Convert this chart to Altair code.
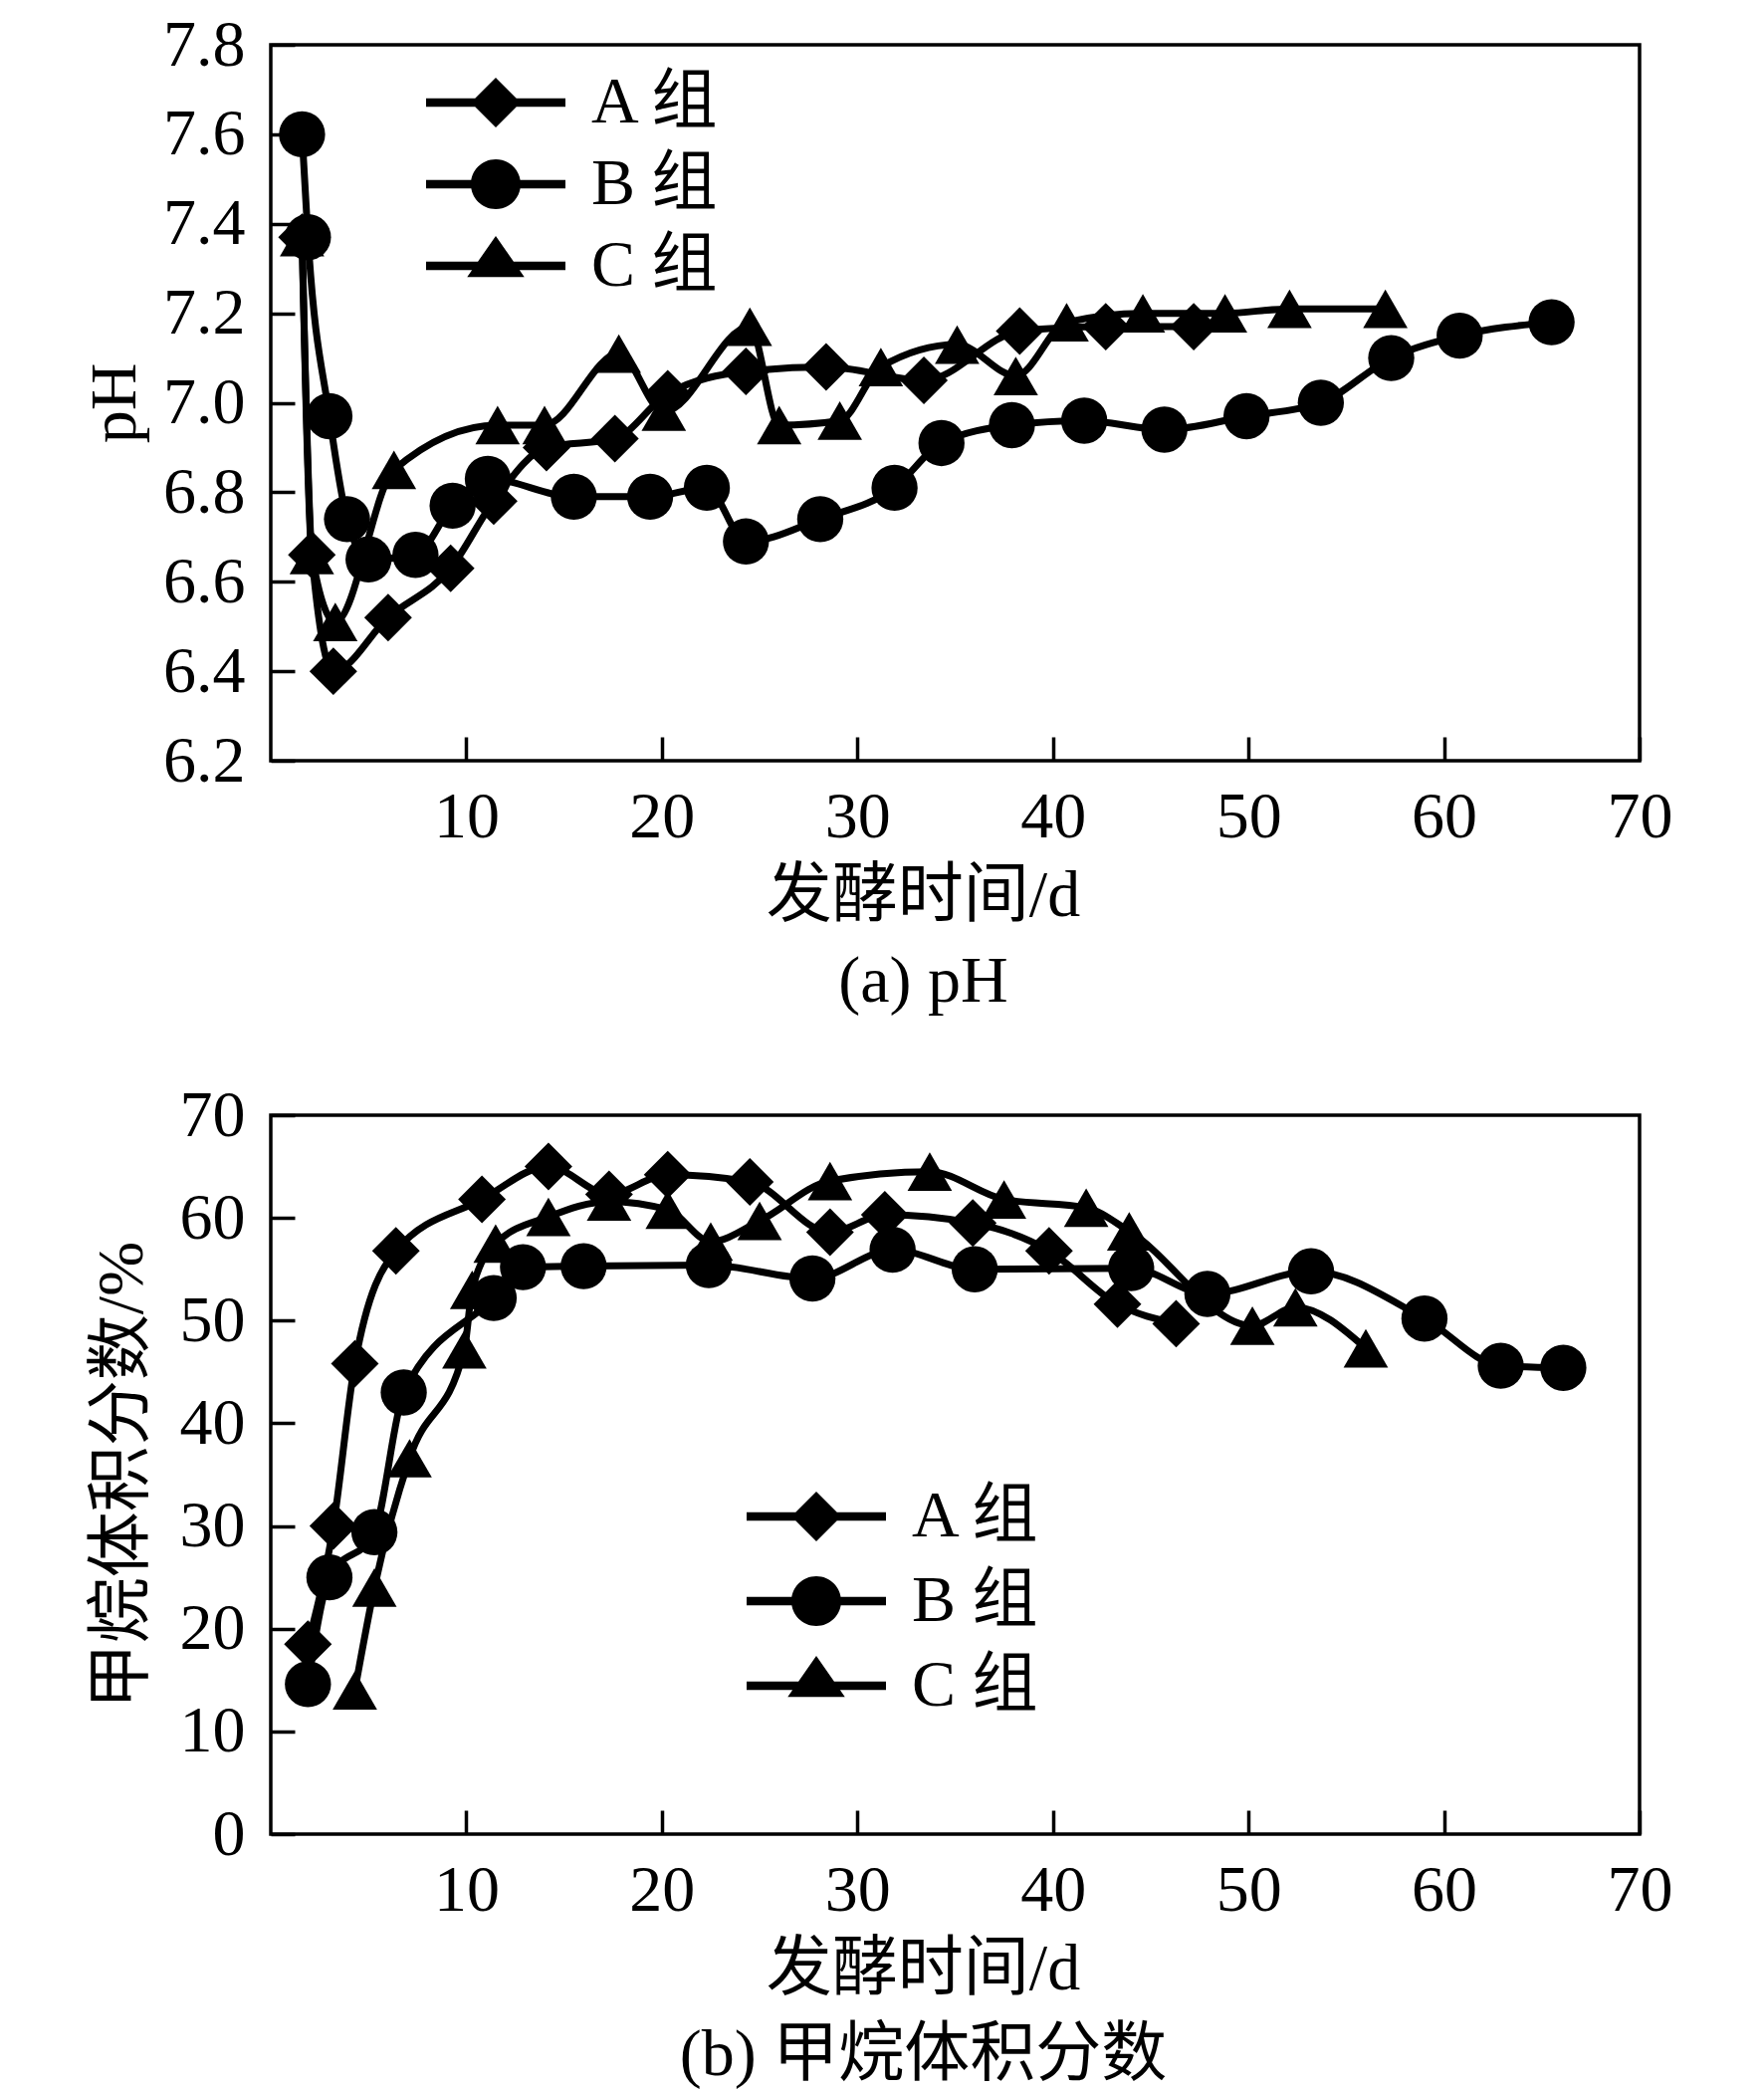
import altair as alt
import pandas as pd

GROUPS = ["A 组", "B 组", "C 组"]

# ---- (a) pH ----
A_ph_day = [1.6, 2.1, 3.2, 6.0, 9.2, 11.4, 14.1, 17.6, 20.3, 24.3, 28.4, 33.4, 38.3, 42.7, 47.2]
A_ph = [7.37, 6.66, 6.40, 6.52, 6.63, 6.78, 6.90, 6.92, 7.02, 7.07, 7.08, 7.05, 7.16, 7.17, 7.17]

B_ph_day = [1.6, 1.9, 3.0, 3.9, 5.0, 7.4, 9.3, 11.1, 15.5, 19.4, 22.3, 24.3, 28.1, 31.9, 34.3,
            37.9, 41.6, 45.7, 49.9, 53.7, 57.3, 60.8, 65.5]
B_ph = [7.60, 7.37, 6.97, 6.74, 6.65, 6.66, 6.77, 6.83, 6.79, 6.79, 6.81, 6.69, 6.74, 6.81, 6.91,
        6.95, 6.96, 6.94, 6.97, 7.00, 7.10, 7.15, 7.18]

C_ph_day = [1.6, 2.1, 3.3, 6.3, 11.6, 14.0, 17.8, 20.1, 24.5, 26.0, 29.1, 31.2, 35.1, 38.1, 40.7,
            44.6, 48.8, 52.1, 57.0]
C_ph = [7.37, 6.66, 6.51, 6.85, 6.95, 6.95, 7.11, 6.98, 7.17, 6.95, 6.96, 7.08, 7.13, 7.06, 7.18,
        7.20, 7.20, 7.21, 7.21]

# ---- (b) methane volume fraction ----
A_m_day = [1.9, 3.2, 4.3, 6.4, 10.8, 14.2, 17.3, 20.3, 24.5, 28.6, 31.4, 35.9, 39.8, 43.3, 46.3]
A_m = [18.5, 30.0, 45.8, 56.8, 61.8, 65.0, 62.3, 64.2, 63.5, 58.6, 60.3, 59.5, 56.8, 51.6, 49.7]

B_m_day = [1.9, 3.0, 5.3, 6.8, 11.4, 12.9, 16.0, 22.4, 27.7, 31.8, 36.0, 44.0, 47.9, 53.2, 59.0,
           62.9, 66.1]
B_m = [14.6, 25.0, 29.4, 43.0, 52.2, 55.2, 55.3, 55.4, 54.1, 56.9, 55.0, 55.1, 52.6, 54.8, 50.2,
       45.6, 45.4]

C_m_day = [4.3, 5.3, 7.1, 9.9, 10.3, 11.5, 14.2, 17.3, 20.3, 22.5, 25.0, 28.6, 33.7, 37.5, 41.7,
           43.9, 50.2, 52.4, 56.0]
C_m = [14.0, 24.0, 36.6, 47.2, 53.0, 57.5, 60.1, 61.6, 60.8, 57.7, 59.7, 63.6, 64.5, 61.8, 61.0,
       58.7, 49.5, 51.3, 47.3]

X_TICKS = [10, 20, 30, 40, 50, 60, 70]
PH_TICKS = [6.2, 6.4, 6.6, 6.8, 7.0, 7.2, 7.4, 7.6, 7.8]
M_TICKS = [0, 10, 20, 30, 40, 50, 60, 70]


def frame(series):
    rows = []
    for g, (days, vals) in zip(GROUPS, series):
        for i, (d, v) in enumerate(zip(days, vals)):
            rows.append({"day": d, "val": v, "group": g, "idx": i})
    return pd.DataFrame(rows)


FONT = "Liberation Serif, Noto Sans CJK SC"
FS = 66
TICK = 24
W = 1375

PLOT_SHAPES = ["diamond", "circle", "triangle-up"]
PLOT_SIZES = [2300, 2000, 2700]
# legend glyphs: a filled bar (the line) plus the filled marker, all wound clockwise
BAR = "M-2.8,-0.17L2.8,-0.17L2.8,0.17L-2.8,0.17Z"
LEGEND_SHAPES = [
    BAR + "M-1,0L0,-1L1,0L0,1Z",
    BAR + "M-1,0A1,1,0,1,1,1,0A1,1,0,1,1,-1,0Z",
    BAR + "M0,-1.2L1.15,0.45L-1.15,0.45Z",
]


def panel(df, ydom, yvals, yfmt, ytitle, ytitlepad, caption, height, lx, ly, rowpad):
    x = alt.X("day:Q", scale=alt.Scale(domain=[0, 70], nice=False, zero=False),
              axis=alt.Axis(values=X_TICKS, title="发酵时间/d", offset=-TICK, tickSize=TICK,
                            labelPadding=24, titlePadding=14, titleX=655, domain=False,
                            labelFlush=False, labelOverlap=False))
    y = alt.Y("val:Q", scale=alt.Scale(domain=ydom, nice=False, zero=False),
              axis=alt.Axis(values=yvals, format=yfmt, title=ytitle, offset=-TICK, tickSize=TICK,
                            labelPadding=26, titlePadding=ytitlepad, domain=False,
                            labelFlush=False, labelOverlap=False))
    base = alt.Chart(df).encode(x=x, y=y)
    lines = base.mark_line(color="black", strokeWidth=7, interpolate="monotone").encode(
        detail="group:N", order="idx:Q")
    pts = base.mark_point(filled=True, fill="black", opacity=1).encode(
        shape=alt.Shape("group:N", scale=alt.Scale(domain=GROUPS, range=PLOT_SHAPES), legend=None),
        size=alt.Size("group:N", scale=alt.Scale(domain=GROUPS, range=PLOT_SIZES), legend=None),
    )
    leg = base.mark_point(filled=True, fill="black", opacity=0).encode(
        shape=alt.Shape("group:N", scale=alt.Scale(domain=GROUPS, range=LEGEND_SHAPES),
                        legend=alt.Legend(title=None, orient="none", legendX=lx, legendY=ly,
                                          symbolSize=2500, symbolFillColor="black",
                                          symbolOpacity=1, labelFont=FONT, labelFontSize=FS,
                                          labelColor="black", labelOffset=63, rowPadding=rowpad,
                                          padding=0, labelLimit=0)),
    )
    return alt.layer(lines, pts, leg).resolve_scale(shape="independent", size="independent").properties(
        width=W, height=height,
        title=alt.TitleParams(text=caption, orient="bottom", offset=22, frame="group", dx=-32,
                              font=FONT, fontSize=FS, fontWeight="normal", color="black"),
    )


top = panel(frame([(A_ph_day, A_ph), (B_ph_day, B_ph), (C_ph_day, C_ph)]),
            [6.2, 7.8], PH_TICKS, ".1f", "pH", 14, "(a) pH", 719, 193, 25, 16)
bottom = panel(frame([(A_m_day, A_m), (B_m_day, B_m), (C_m_day, C_m)]),
               [0, 70], M_TICKS, "d", "甲烷体积分数/%", 24, "(b) 甲烷体积分数", 722, 515, 370, 19)

chart = alt.vconcat(top, bottom, spacing=64).properties(
    padding={"left": 72, "top": 2, "right": 10, "bottom": 0}
).configure_view(stroke="black", strokeWidth=3.5).configure_axis(
    labelFont=FONT, titleFont=FONT, labelFontSize=FS, titleFontSize=FS, titleFontWeight="normal",
    labelColor="black", titleColor="black", tickColor="black", tickWidth=3.5, grid=False,
).configure_title(font=FONT, fontSize=FS, fontWeight="normal", color="black")

chart.save("out.html", embed_options={"renderer": "svg", "actions": False})
